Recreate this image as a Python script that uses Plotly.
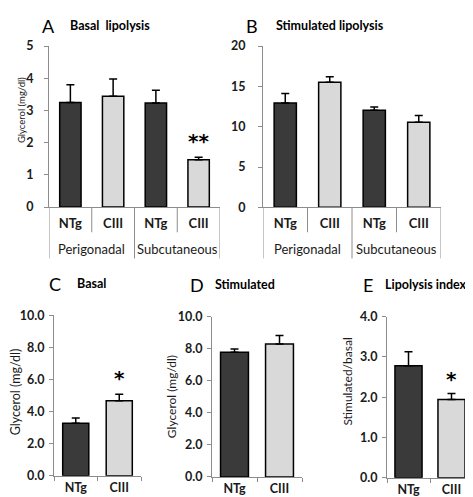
import plotly.graph_objects as go

W, H = 473, 497

# ---------------- data ----------------
genotypes = ["NTg", "CIII"]
depots = ["Perigonadal", "Subcutaneous"]
depot_genotypes = ["NTg", "CIII", "NTg", "CIII"]

basal_depot = [3.25, 3.44, 3.23, 1.47]
basal_depot_sem = [0.55, 0.54, 0.40, 0.08]
stim_depot = [12.95, 15.5, 12.05, 10.56]
stim_depot_sem = [1.18, 0.70, 0.40, 0.84]
basal_total = [3.26, 4.67]
basal_total_sem = [0.34, 0.40]
stim_total = [7.78, 8.29]
stim_total_sem = [0.20, 0.54]
lipo_index = [2.78, 1.94]
lipo_index_sem = [0.35, 0.15]

DARK = "#3a3a3a"
LIGHT = "#d9d9d9"
AXC = "#8c8c8c"
TXT = "#1a1a1a"
FONT = "Lato"


def fx(p):
    return p / W


def fy(p):
    return 1 - p / H


fig = go.Figure()


def add_bars(x, vals, sem, xa, ya, width):
    cols = [DARK if g == "NTg" else LIGHT for g in (depot_genotypes if len(vals) == 4 else genotypes)]
    fig.add_trace(go.Bar(
        x=x, y=vals, xaxis=xa, yaxis=ya, width=width,
        marker=dict(color=cols, line=dict(color="black", width=1.5)),
        error_y=dict(type="data", symmetric=False, array=sem, arrayminus=[0] * len(vals),
                     color="black", thickness=1.5, width=4),
        showlegend=False, hoverinfo="skip",
    ))


idx4 = list(range(len(depot_genotypes)))
add_bars(idx4, basal_depot, basal_depot_sem, "x", "y", 0.5)
add_bars(idx4, stim_depot, stim_depot_sem, "x2", "y2", 0.5)
add_bars(genotypes, basal_total, basal_total_sem, "x3", "y3", 0.6)
add_bars(genotypes, stim_total, stim_total_sem, "x4", "y4", 0.62)
add_bars(genotypes, lipo_index, lipo_index_sem, "x5", "y5", 0.63)

labfont = dict(family=FONT, size=13, color=TXT)


def yax(dom, rng, dtick, fmt, anchor, standoff):
    return dict(domain=[fy(dom[1]), fy(dom[0])], range=rng, dtick=dtick, tickformat=fmt,
                anchor=anchor, showline=True, linecolor=AXC, linewidth=1, ticks="outside",
                ticklen=4, tickcolor=AXC, showgrid=False, zeroline=False,
                tickfont=dict(family=FONT, size=12.5, color=TXT, weight="bold"),
                ticklabelstandoff=standoff)


def xax_num(dom, anchor):
    return dict(domain=[fx(dom[0]), fx(dom[1])], range=[-0.5, 3.5], anchor=anchor,
                tickvals=idx4, ticktext=depot_genotypes, showline=True, linecolor=AXC,
                linewidth=1, ticks="", showgrid=False, zeroline=False,
                tickfont=dict(family=FONT, size=13, color=TXT, weight="bold"),
                ticklabelstandoff=4)


def xax_cat(dom, anchor):
    return dict(domain=[fx(dom[0]), fx(dom[1])], type="category", anchor=anchor,
                showline=True, linecolor=AXC, linewidth=1, ticks="outside", ticklen=4,
                tickcolor=AXC, tickson="boundaries", showgrid=False, zeroline=False,
                tickfont=dict(family=FONT, size=12.5, color=TXT, weight="bold"))


fig.update_layout(
    width=W, height=H, margin=dict(l=0, r=0, t=0, b=0),
    paper_bgcolor="white", plot_bgcolor="white",
    font=dict(family=FONT, color=TXT),
    xaxis=xax_num((41, 212), "y"),
    yaxis=yax((31, 197), [0, 5], 1, "d", "x", 8),
    xaxis2=xax_num((255, 433), "y2"),
    yaxis2=yax((31, 197.3), [0, 20], 5, "d", "x2", 10),
    xaxis3=xax_cat((46, 133), "y3"),
    yaxis3=yax((308.5, 474), [0, 10], 2, ".1f", "x3", 2),
    xaxis4=xax_cat((204, 294), "y4"),
    yaxis4=yax((310, 475.3), [0, 10], 2, ".1f", "x4", 2),
    xaxis5=xax_cat((379, 465), "y5"),
    yaxis5=yax((310, 476), [0, 4], 1, ".1f", "x5", 2),
)

shapes = []
annotations = []
# dividers & group labels for A and B
for xa, top in (("x", 197), ("x2", 197.3)):
    for b in [-0.5, 0.5, 1.5, 2.5, 3.5]:
        long_line = b in (-0.5, 1.5, 3.5)
        shapes.append(dict(type="line", xref=xa, yref="paper", x0=b, x1=b,
                           y0=fy(top), y1=fy(250 if long_line else 223),
                           line=dict(color=AXC, width=1)))
    for gi, name in enumerate(depots):
        annotations.append(dict(text=name, xref=xa, yref="paper", x=2 * gi + 0.5, y=fy(240),
                                showarrow=False, xanchor="center", yanchor="middle",
                                font=labfont))

# panel letters and titles
panels = [("A", 40, 10, "Basal  lipolysis", 60), ("B", 244, 10, "Stimulated lipolysis", 266),
          ("C", 47, 276, "Basal", 67), ("D", 189, 277, "Stimulated", 205),
          ("E", 360, 277, "Lipolysis index", 375)]
for letter, lx, ly, title, tx in panels:
    annotations.append(dict(text=letter, xref="paper", yref="paper", x=fx(lx), y=fy(ly),
                            showarrow=False, xanchor="center", yanchor="middle",
                            font=dict(family=FONT, size=18, color="black")))
    annotations.append(dict(text="<b>%s</b>" % title, xref="paper", yref="paper", x=fx(tx),
                            y=fy(ly), showarrow=False, xanchor="left", yanchor="middle",
                            font=dict(family=FONT, size=12.5, color="black")))

# y-axis titles
ytitles = [("Glycerol (mg/dl)", 13, 97, 9.5), ("Glycerol (mg/dl)", 7, 388, 12.5),
           ("Glycerol (mg/dl)", 163, 393, 12), ("Stimulated/basal", 340, 377, 12)]
for t, x, y, s in ytitles:
    annotations.append(dict(text=t, xref="paper", yref="paper", x=fx(x), y=fy(y),
                            textangle=-90, showarrow=False, xanchor="center",
                            yanchor="middle", font=dict(family=FONT, size=s, color=TXT)))

# significance stars
stars = [("x", "y", 3, 2.05, "**"), ("x3", "y3", "CIII", 6.1, "*"), ("x5", "y5", "CIII", 2.45, "*")]
for xa, ya, x, y, s in stars:
    annotations.append(dict(text="<b>%s</b>" % s, xref=xa, yref=ya, x=x, y=y,
                            showarrow=False, xanchor="center", yanchor="middle",
                            font=dict(family="DejaVu Sans", size=20, color="black")))

fig.update_layout(shapes=shapes, annotations=annotations)
fig.write_html("out.html")
